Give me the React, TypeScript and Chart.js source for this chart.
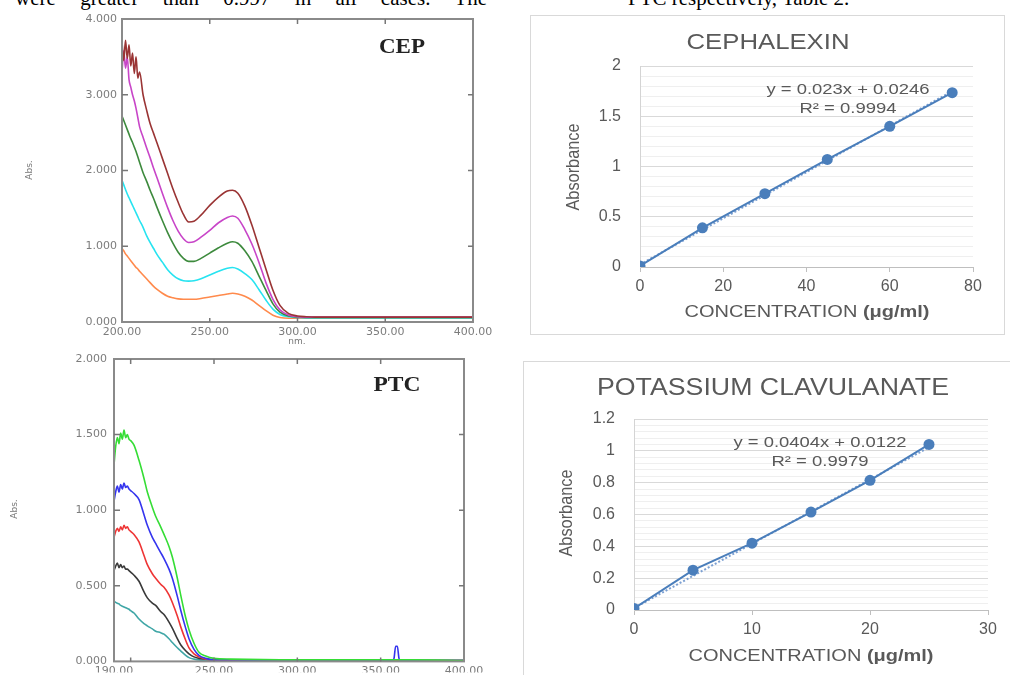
import React, { useEffect, useRef } from "react";
import { Chart, registerables } from "chart.js";

Chart.register(...registerables);

// ---------------- DATA ----------------
// CEP UV spectra (wavelength nm vs absorbance), five concentrations
const CEP_NM = [200, 201, 202, 203, 204, 205, 206, 207, 208, 209, 210, 212, 214, 216, 218, 220, 223, 226, 229, 232, 235, 238, 241, 245, 250, 255, 260, 263, 266, 270, 274, 278, 282, 286, 290, 295, 300, 305, 310, 350, 400];
const CEP_S1 = [3.70, 3.45, 3.72, 3.48, 3.66, 3.38, 3.55, 3.28, 3.50, 3.22, 3.30, 3.00, 2.80, 2.62, 2.49, 2.36, 2.16, 1.96, 1.76, 1.58, 1.42, 1.32, 1.33, 1.41, 1.54, 1.65, 1.73, 1.74, 1.70, 1.53, 1.28, 0.99, 0.70, 0.42, 0.22, 0.11, 0.08, 0.07, 0.065, 0.065, 0.065];
const CEP_S2 = [3.30, 3.58, 3.35, 3.50, 3.20, 3.10, 3.00, 2.92, 2.82, 2.70, 2.58, 2.44, 2.30, 2.17, 2.03, 1.90, 1.70, 1.51, 1.34, 1.20, 1.10, 1.05, 1.06, 1.12, 1.21, 1.31, 1.38, 1.40, 1.37, 1.22, 1.03, 0.79, 0.52, 0.30, 0.16, 0.09, 0.07, 0.065, 0.065, 0.065, 0.065];
const CEP_S3 = [2.72, 2.66, 2.60, 2.54, 2.48, 2.42, 2.37, 2.31, 2.25, 2.18, 2.11, 1.97, 1.86, 1.74, 1.63, 1.51, 1.34, 1.18, 1.04, 0.92, 0.84, 0.80, 0.80, 0.84, 0.91, 0.98, 1.04, 1.06, 1.04, 0.94, 0.80, 0.61, 0.42, 0.24, 0.13, 0.08, 0.065, 0.06, 0.06, 0.06, 0.06];
const CEP_S4 = [1.87, 1.81, 1.75, 1.69, 1.64, 1.59, 1.54, 1.49, 1.44, 1.39, 1.34, 1.25, 1.14, 1.05, 0.97, 0.89, 0.79, 0.69, 0.62, 0.57, 0.545, 0.54, 0.545, 0.57, 0.62, 0.67, 0.71, 0.72, 0.70, 0.64, 0.56, 0.43, 0.29, 0.17, 0.10, 0.07, 0.06, 0.055, 0.055, 0.055, 0.055];
const CEP_S5 = [0.97, 0.94, 0.90, 0.87, 0.84, 0.81, 0.78, 0.75, 0.72, 0.70, 0.67, 0.62, 0.57, 0.52, 0.47, 0.43, 0.38, 0.34, 0.32, 0.305, 0.30, 0.30, 0.30, 0.31, 0.33, 0.35, 0.37, 0.38, 0.37, 0.34, 0.29, 0.22, 0.15, 0.09, 0.06, 0.05, 0.05, 0.05, 0.05, 0.05, 0.05];
const CEP_COLORS = ["#9a3434", "#c845c8", "#3d8a3d", "#27e3f0", "#ff8a4c"];
const CEP_X_TICKS = [200, 250, 300, 350, 400];
const CEP_Y_TICKS = [0, 1, 2, 3, 4];
const CEP_X_INNER = [250, 300, 350];
const CEP_Y_INNER = [1, 2, 3];

// PTC UV spectra
const PTC_NM = [190, 191, 192, 193, 194, 195, 196, 197, 198, 199, 200, 202, 205, 208, 210, 213, 215, 218, 220, 223, 225, 228, 230, 233, 235, 238, 241, 245, 250, 260, 300, 350, 357, 358, 359, 360, 361, 362, 370, 400];
const PTC_S1 = [1.30, 1.42, 1.48, 1.44, 1.51, 1.47, 1.53, 1.48, 1.50, 1.47, 1.46, 1.43, 1.33, 1.21, 1.12, 1.02, 0.96, 0.89, 0.84, 0.76, 0.69, 0.55, 0.44, 0.29, 0.21, 0.12, 0.06, 0.035, 0.02, 0.015, 0.01, 0.01, 0.01, 0.01, 0.01, 0.01, 0.01, 0.01, 0.01, 0.005];
const PTC_S2 = [1.06, 1.12, 1.16, 1.12, 1.17, 1.14, 1.18, 1.15, 1.16, 1.14, 1.13, 1.11, 1.07, 0.97, 0.90, 0.82, 0.78, 0.72, 0.68, 0.61, 0.55, 0.43, 0.34, 0.22, 0.15, 0.08, 0.04, 0.02, 0.01, 0.01, 0.005, 0.005, 0.005, 0.02, 0.10, 0.10, 0.02, 0.005, 0.005, 0.005];
const PTC_S3 = [0.82, 0.86, 0.88, 0.86, 0.89, 0.87, 0.90, 0.88, 0.89, 0.87, 0.86, 0.84, 0.79, 0.70, 0.64, 0.58, 0.55, 0.51, 0.49, 0.44, 0.39, 0.30, 0.23, 0.14, 0.09, 0.05, 0.03, 0.015, 0.01, 0.008, 0.005, 0.005, 0.005, 0.005, 0.005, 0.005, 0.005, 0.005, 0.005, 0.005];
const PTC_S4 = [0.60, 0.63, 0.65, 0.62, 0.64, 0.62, 0.63, 0.61, 0.61, 0.60, 0.59, 0.57, 0.53, 0.46, 0.42, 0.385, 0.37, 0.33, 0.31, 0.26, 0.22, 0.15, 0.11, 0.07, 0.05, 0.03, 0.02, 0.015, 0.01, 0.008, 0.005, 0.005, 0.005, 0.005, 0.005, 0.005, 0.005, 0.005, 0.005, 0.005];
const PTC_S5 = [0.40, 0.39, 0.385, 0.38, 0.37, 0.365, 0.36, 0.355, 0.35, 0.345, 0.335, 0.32, 0.28, 0.25, 0.235, 0.215, 0.20, 0.19, 0.18, 0.15, 0.125, 0.09, 0.07, 0.04, 0.025, 0.015, 0.01, 0.008, 0.005, 0.005, 0.005, 0.005, 0.005, 0.005, 0.005, 0.005, 0.005, 0.005, 0.005, 0.005];
const PTC_COLORS = ["#35dd35", "#3535ee", "#ee3535", "#3a3a3a", "#3fa6a6"];
const PTC_X_TICKS = [190, 250, 300, 350, 400];
const PTC_Y_TICKS = [0, 0.5, 1, 1.5, 2];
const PTC_X_INNER = [200, 250, 300, 350];
const PTC_Y_INNER = [0.5, 1, 1.5];

// Calibration: Cephalexin
const CEPH_CONC = [0, 15, 30, 45, 60, 75];
const CEPH_ABS = [0.01, 0.39, 0.73, 1.07, 1.40, 1.735];
const CEPH_TREND_X = [0, 75];
const CEPH_TREND_Y = [0.0246, 1.7496];

// Calibration: Potassium clavulanate
const PC_CONC = [0, 5, 10, 15, 20, 25];
const PC_ABS = [0.01, 0.25, 0.42, 0.615, 0.815, 1.04];
const PC_TREND_X = [0, 25];
const PC_TREND_Y = [0.0122, 1.0222];

// ---------------- HELPERS ----------------
function drawText(ctx: CanvasRenderingContext2D, s: string, x: number, y: number, font: string, color: string, w?: number, rot?: boolean) {
  ctx.save();
  ctx.font = font;
  ctx.fillStyle = color;
  ctx.textAlign = "center";
  ctx.textBaseline = "middle";
  ctx.translate(x, y);
  if (rot) ctx.rotate(-Math.PI / 2);
  if (w) {
    const m = ctx.measureText(s).width;
    ctx.scale(w / m, 1);
  }
  ctx.fillText(s, 0, 0);
  ctx.restore();
}

function drawMixed(ctx: CanvasRenderingContext2D, parts: [string, string][], x: number, y: number, color: string, w: number) {
  ctx.save();
  ctx.fillStyle = color;
  ctx.textAlign = "left";
  ctx.textBaseline = "middle";
  const widths = parts.map(([s, f]) => {
    ctx.font = f;
    return ctx.measureText(s).width;
  });
  const total = widths.reduce((a, b) => a + b, 0);
  ctx.translate(x, y);
  ctx.scale(w / total, 1);
  let cx = -total / 2;
  parts.forEach(([s, f], i) => {
    ctx.font = f;
    ctx.fillText(s, cx, 0);
    cx += widths[i];
  });
  ctx.restore();
}

type SpecOpts = {
  nm: number[];
  series: number[][];
  colors: string[];
  xMin: number;
  xMax: number;
  xTicks: number[];
  xInner: number[];
  yMax: number;
  yTicks: number[];
  yInner: number[];
  yW: number;
  xH: number;
  padTop: number;
  padRight: number;
  xPad: number;
  yPad: number;
  extras: (ctx: CanvasRenderingContext2D) => void;
};

function spectrumConfig(p: SpecOpts): any {
  const tickFont = { family: "DejaVu Sans", size: 11 };
  return {
    type: "scatter",
    data: {
      datasets: p.series.map((s, k) => ({
        data: p.nm.map((x, i) => ({ x, y: s[i] })),
        showLine: true,
        borderColor: p.colors[k],
        backgroundColor: p.colors[k],
        borderWidth: 1.6,
        pointRadius: 0,
        cubicInterpolationMode: "monotone",
        fill: false,
      })),
    },
    options: {
      responsive: false,
      animation: false,
      events: [],
      layout: { padding: { top: p.padTop, right: p.padRight, left: 0, bottom: 0 } },
      plugins: { legend: { display: false }, tooltip: { enabled: false } },
      scales: {
        x: {
          type: "linear",
          min: p.xMin,
          max: p.xMax,
          afterBuildTicks: (s: any) => {
            s.ticks = p.xTicks.map((v) => ({ value: v }));
          },
          afterFit: (s: any) => {
            s.height = p.xH;
          },
          grid: { display: false, drawTicks: false },
          border: { display: false },
          ticks: {
            padding: p.xPad,
            font: tickFont,
            color: "#7c7c7c",
            maxRotation: 0,
            autoSkip: false,
            callback: (v: any) => Number(v).toFixed(2),
          },
        },
        y: {
          type: "linear",
          min: 0,
          max: p.yMax,
          afterBuildTicks: (s: any) => {
            s.ticks = p.yTicks.map((v) => ({ value: v }));
          },
          afterFit: (s: any) => {
            s.width = p.yW;
          },
          grid: { display: false, drawTicks: false },
          border: { display: false },
          ticks: {
            padding: p.yPad,
            font: tickFont,
            color: "#7c7c7c",
            autoSkip: false,
            callback: (v: any) => Number(v).toFixed(3),
          },
        },
      },
    },
    plugins: [
      {
        id: "frame",
        afterDraw(chart: any) {
          const { ctx, chartArea: a, scales } = chart;
          ctx.save();
          ctx.strokeStyle = "#8a8a8a";
          ctx.lineWidth = 2;
          ctx.strokeRect(a.left, a.top, a.right - a.left, a.bottom - a.top);
          ctx.lineWidth = 1.5;
          ctx.strokeStyle = "#777";
          ctx.beginPath();
          p.xInner.forEach((v) => {
            const px = scales.x.getPixelForValue(v);
            ctx.moveTo(px, a.top);
            ctx.lineTo(px, a.top + 5);
            ctx.moveTo(px, a.bottom);
            ctx.lineTo(px, a.bottom - 4);
          });
          p.yInner.forEach((v) => {
            const py = scales.y.getPixelForValue(v);
            ctx.moveTo(a.left, py);
            ctx.lineTo(a.left + 6, py);
            ctx.moveTo(a.right, py);
            ctx.lineTo(a.right - 5, py);
          });
          ctx.stroke();
          ctx.restore();
          p.extras(ctx);
        },
      },
    ],
  };
}

type ExcelOpts = {
  conc: number[];
  abs: number[];
  tx: number[];
  ty: number[];
  xMax: number;
  xStep: number;
  yMax: number;
  yStep: number;
  yMajor: number;
  yW: number;
  xH: number;
  padTop: number;
  padRight: number;
  extras: (ctx: CanvasRenderingContext2D) => void;
};

function excelConfig(p: ExcelOpts): any {
  const isMajor = (v: number) => Math.abs(v / p.yMajor - Math.round(v / p.yMajor)) < 1e-6;
  const tickFont = { family: "Liberation Sans", size: 16 };
  const blue = "#4a7ebb";
  return {
    type: "scatter",
    data: {
      datasets: [
        {
          data: p.conc.map((x, i) => ({ x, y: p.abs[i] })),
          showLine: true,
          borderColor: blue,
          backgroundColor: blue,
          borderWidth: 2,
          pointRadius: 5.5,
          pointBorderWidth: 0,
          order: 1,
        },
        {
          data: p.tx.map((x, i) => ({ x, y: p.ty[i] })),
          showLine: true,
          borderColor: "rgba(110,150,205,0.9)",
          borderDash: [2, 2],
          borderWidth: 2,
          pointRadius: 0,
          order: 2,
        },
      ],
    },
    options: {
      responsive: false,
      animation: false,
      events: [],
      layout: { padding: { top: p.padTop, right: p.padRight, left: 0, bottom: 0 } },
      plugins: { legend: { display: false }, tooltip: { enabled: false } },
      scales: {
        x: {
          type: "linear",
          min: 0,
          max: p.xMax,
          afterFit: (s: any) => {
            s.height = p.xH;
          },
          grid: { drawOnChartArea: false, drawTicks: true, tickLength: 5, color: "#bfbfbf" },
          border: { color: "#bfbfbf", width: 1 },
          ticks: { stepSize: p.xStep, padding: 5, font: tickFont, color: "#595959", maxRotation: 0 },
        },
        y: {
          type: "linear",
          min: 0,
          max: p.yMax,
          afterFit: (s: any) => {
            s.width = p.yW;
          },
          grid: {
            drawTicks: false,
            color: (c: any) => (c.tick && isMajor(c.tick.value) ? "#d9d9d9" : "#efefef"),
          },
          border: { color: "#d4d4d4", width: 1 },
          ticks: {
            stepSize: p.yStep,
            autoSkip: false,
            padding: 19,
            font: tickFont,
            color: "#595959",
            callback: (v: any) => (isMajor(Number(v)) ? String(Math.round(Number(v) * 10) / 10) : ""),
          },
        },
      },
    },
    plugins: [
      {
        id: "texts",
        afterDraw(chart: any) {
          p.extras(chart.ctx);
        },
      },
    ],
  };
}

type Box = { left: number; top: number; width: number; height: number };

function ChartCanvas({ box, make }: { box: Box; make: () => any }) {
  const ref = useRef<HTMLCanvasElement>(null);
  useEffect(() => {
    const chart = new Chart(ref.current as HTMLCanvasElement, make());
    return () => chart.destroy();
  }, []);
  return (
    <canvas
      ref={ref}
      width={box.width}
      height={box.height}
      style={{ position: "absolute", left: box.left, top: box.top, width: box.width, height: box.height }}
    />
  );
}

// ---------------- CHARTS ----------------
const smallFont = "9px 'DejaVu Sans'";
const serifBold = "bold 20px 'Liberation Serif'";
const xlGray = "#595959";

function makeCEP() {
  return spectrumConfig({
    nm: CEP_NM,
    series: [CEP_S1, CEP_S2, CEP_S3, CEP_S4, CEP_S5],
    colors: CEP_COLORS,
    xMin: 200,
    xMax: 400,
    xTicks: CEP_X_TICKS,
    xInner: CEP_X_INNER,
    yMax: 4,
    yTicks: CEP_Y_TICKS,
    yInner: CEP_Y_INNER,
    yW: 122,
    xH: 28,
    padTop: 19,
    padRight: 27,
    xPad: 4,
    yPad: 5,
    extras: (ctx) => {
      drawText(ctx, "CEP", 402, 48, serifBold, "#222", 46);
      drawText(ctx, "Abs.", 30, 170, smallFont, "#777", undefined, true);
      drawText(ctx, "nm.", 297, 342, smallFont, "#777");
    },
  });
}

function makePTC() {
  return spectrumConfig({
    nm: PTC_NM,
    series: [PTC_S1, PTC_S2, PTC_S3, PTC_S4, PTC_S5],
    colors: PTC_COLORS,
    xMin: 190,
    xMax: 400,
    xTicks: PTC_X_TICKS,
    xInner: PTC_X_INNER,
    yMax: 2,
    yTicks: PTC_Y_TICKS,
    yInner: PTC_Y_INNER,
    yW: 114,
    xH: 11,
    padTop: 14,
    padRight: 36,
    xPad: 3,
    yPad: 7,
    extras: (ctx) => {
      drawText(ctx, "PTC", 397, 41, serifBold, "#222", 47);
      drawText(ctx, "Abs.", 15, 164, smallFont, "#777", undefined, true);
    },
  });
}

function makeCeph() {
  // canvas origin at page (531, 16)
  return excelConfig({
    conc: CEPH_CONC,
    abs: CEPH_ABS,
    tx: CEPH_TREND_X,
    ty: CEPH_TREND_Y,
    xMax: 80,
    xStep: 20,
    yMax: 2,
    yStep: 0.1,
    yMajor: 0.5,
    yW: 109,
    xH: 67,
    padTop: 50,
    padRight: 31,
    extras: (ctx) => {
      drawText(ctx, "CEPHALEXIN", 237, 27, "22px 'Liberation Sans'", xlGray, 163);
      drawText(ctx, "y = 0.023x + 0.0246", 317, 74, "14px 'Liberation Sans'", xlGray, 163);
      drawText(ctx, "R² = 0.9994", 317, 93, "14px 'Liberation Sans'", xlGray, 97);
      drawMixed(
        ctx,
        [
          ["CONCENTRATION ", "16px 'Liberation Sans'"],
          ["(μg/ml)", "bold 16px 'Liberation Sans'"],
        ],
        276,
        297,
        xlGray,
        245
      );
      drawText(ctx, "Absorbance", 43, 151, "19px 'Liberation Sans'", xlGray, 87, true);
    },
  });
}

function makePC() {
  // canvas origin at page (524, 362)
  return excelConfig({
    conc: PC_CONC,
    abs: PC_ABS,
    tx: PC_TREND_X,
    ty: PC_TREND_Y,
    xMax: 30,
    xStep: 10,
    yMax: 1.2,
    yStep: 0.04,
    yMajor: 0.2,
    yW: 110,
    xH: 65,
    padTop: 57,
    padRight: 22,
    extras: (ctx) => {
      drawText(ctx, "POTASSIUM CLAVULANATE", 249, 27, "23px 'Liberation Sans'", xlGray, 352);
      drawText(ctx, "y = 0.0404x + 0.0122", 296, 81, "14px 'Liberation Sans'", xlGray, 173);
      drawText(ctx, "R² = 0.9979", 296, 100, "14px 'Liberation Sans'", xlGray, 97);
      drawMixed(
        ctx,
        [
          ["CONCENTRATION ", "16px 'Liberation Sans'"],
          ["(μg/ml)", "bold 16px 'Liberation Sans'"],
        ],
        287,
        295,
        xlGray,
        245
      );
      drawText(ctx, "Absorbance", 43, 151, "19px 'Liberation Sans'", xlGray, 87, true);
    },
  });
}

export default function App() {
  const textStyle: React.CSSProperties = {
    position: "absolute",
    top: -12,
    fontFamily: "'Liberation Serif', serif",
    fontSize: 21,
    lineHeight: "21px",
    color: "#000",
    whiteSpace: "nowrap",
  };
  return (
    <div
      style={{
        position: "fixed",
        left: 0,
        top: 0,
        width: 1010,
        height: 675,
        overflow: "hidden",
        background: "#fff",
      }}
    >
      <div style={{ ...textStyle, left: 15, width: 472, textAlign: "justify", textAlignLast: "justify" } as React.CSSProperties}>
        were greater than 0.997 in all cases. The
      </div>
      <div style={{ ...textStyle, left: 628 }}>PTC respectively, Table 2.</div>

      <div
        style={{
          position: "absolute",
          left: 530,
          top: 15,
          width: 475,
          height: 320,
          boxSizing: "border-box",
          border: "1px solid #d9d9d9",
        }}
      />
      <div
        style={{
          position: "absolute",
          left: 523,
          top: 361,
          width: 500,
          height: 330,
          boxSizing: "border-box",
          border: "1px solid #d9d9d9",
        }}
      />

      <ChartCanvas box={{ left: 0, top: 0, width: 500, height: 350 }} make={makeCEP} />
      <ChartCanvas box={{ left: 0, top: 345, width: 500, height: 330 }} make={makePTC} />
      <ChartCanvas box={{ left: 531, top: 16, width: 473, height: 318 }} make={makeCeph} />
      <ChartCanvas box={{ left: 524, top: 362, width: 486, height: 313 }} make={makePC} />
    </div>
  );
}
